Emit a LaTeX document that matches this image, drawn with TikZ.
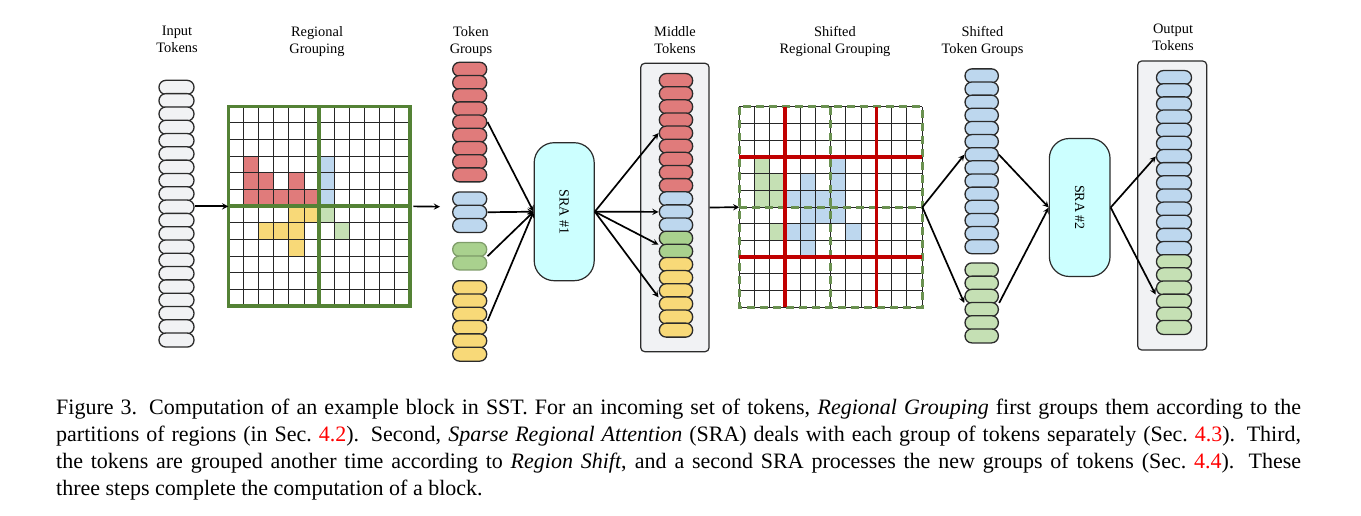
\documentclass[tikz,border=0pt]{standalone}
\usepackage{fontspec}
\setmainfont{Liberation Serif}
\usetikzlibrary{arrows}
\usetikzlibrary{fit}

\definecolor{tokgray}{HTML}{F1F2F4}
\definecolor{tokred}{HTML}{E07B7B}
\definecolor{tokblue}{HTML}{BDD7EE}
\definecolor{tokgreen}{HTML}{A9D18E}
\definecolor{palegreen}{HTML}{C5E0B4}
\definecolor{tokyellow}{HTML}{F8D978}
\definecolor{gridgreen}{HTML}{548235}
\definecolor{dashgreen}{HTML}{6A9150}
\definecolor{shiftred}{HTML}{C00000}
\definecolor{sracyan}{HTML}{CCFFFF}
\definecolor{edgegray}{HTML}{2B2B2B}

\tikzset{
  tok/.style={draw=edgegray, line width=1.3pt, rounded corners=6.8pt,
    minimum width=34pt, minimum height=14pt, inner sep=0pt},
  grp/.style={inner sep=0pt},
  sra/.style={draw=edgegray, fill=sracyan, line width=1.2pt, rounded corners=20pt,
    minimum width=60pt, minimum height=138pt, inner sep=0pt,
    font=\fontsize{14}{17}\selectfont},
  tokbox/.style={draw=edgegray, fill=tokgray, line width=1.2pt, rounded corners=4pt, inner sep=0pt},
  lbl/.style={align=center, anchor=north, inner sep=0pt, font=\fontsize{14.4}{16.7}\selectfont},
  arr/.style={->, >=stealth, line width=1.7pt},
  cellline/.style={line width=1pt, black!85},
}

% one column of tokens: prefix, x, top, count, pitch, style
\newcommand{\tokencol}[6]{%
  \foreach \i in {1,...,#4}
    \node[tok,#6] (#1\i) at (#2,{#3+(\i-0.5)*#5}) {};
}

\begin{document}
\begin{tikzpicture}[x=1pt,y=-1pt]
  \useasboundingbox (0,0) rectangle (1361,516);

  % titles
  \node[lbl] (tin) at (177,26.3) {Input\\Tokens};
  \node[lbl] (treg) at (317,26.3) {Regional\\Grouping};
  \node[lbl] (tgrp) at (471,26.3) {Token\\Groups};
  \node[lbl] (tmid) at (675,26.6) {Middle\\Tokens};
  \node[lbl] (tsreg) at (835,26.3) {Shifted\\Regional Grouping};
  \node[lbl] (tsgrp) at (982.5,26.3) {Shifted\\Token Groups};
  \node[lbl] (tout) at (1173,23.8) {Output\\Tokens};

  % input tokens
  \tokencol{in}{176.5}{80.7}{20}{13.3}{fill=tokgray,minimum width=35pt}
  \node[grp, fit=(in1)(in20)] (inputs) {};

  % regional grouping
  \node[grp, minimum width=181.7pt, minimum height=199.7pt, anchor=north west] (grid1) at (228.3,106.3) {};
  \begin{scope}[shift={(grid1.north west)}, x=15.142pt, y=-16.642pt]
    \foreach \c/\r in {1/3,1/4,2/4,4/4,1/5,2/5,3/5,4/5,5/5}
      \fill[tokred] (\c,\r) rectangle ++(1,1);
    \foreach \c/\r in {6/3,6/4,6/5}
      \fill[tokblue] (\c,\r) rectangle ++(1,1);
    \foreach \c/\r in {4/6,5/6,2/7,3/7,4/7,4/8}
      \fill[tokyellow] (\c,\r) rectangle ++(1,1);
    \foreach \c/\r in {6/6,7/7}
      \fill[palegreen] (\c,\r) rectangle ++(1,1);
    \foreach \i in {0,...,12} {
      \draw[cellline] (\i,0) -- (\i,12);
      \draw[cellline] (0,\i) -- (12,\i);
    }
    \draw[gridgreen, line width=3.4pt] (0,0) rectangle (12,12) (6,0) -- (6,12) (0,6) -- (12,6);
  \end{scope}

  % token groups
  \tokencol{tr}{469.7}{62.7}{9}{13.2}{fill=tokred}
  \tokencol{tb}{469.7}{192.3}{3}{13.3}{fill=tokblue}
  \tokencol{tg}{469.7}{242.7}{2}{13.5}{fill=tokgreen,draw=tokgreen!75!black}
  \tokencol{ty}{469.7}{281}{6}{13.3}{fill=tokyellow}
  \node[grp, fit=(tr1)(tr9)] (tgred) {};
  \node[grp, fit=(tb1)(tb3)] (tgblue) {};
  \node[grp, fit=(tg1)(tg2)] (tggreen) {};
  \node[grp, fit=(ty1)(ty6)] (tgyellow) {};

  % SRA #1
  \node[sra] (sra1) at (564.2,211.7) {\rotatebox{-90}{SRA \#1}};

  % middle tokens
  \node[tokbox, minimum width=68.3pt, minimum height=288.4pt] (midbox) at (674.9,207.5) {};
  \tokencol{mr}{676}{74}{9}{13.13}{fill=tokred,minimum width=33.3pt}
  \tokencol{mb}{676}{192.2}{3}{13.13}{fill=tokblue,minimum width=33.3pt}
  \tokencol{mg}{676}{231.6}{2}{13.13}{fill=tokgreen,minimum width=33.3pt}
  \tokencol{my}{676}{257.9}{6}{13.13}{fill=tokyellow,minimum width=33.3pt}
  \node[grp, fit=(mr1)(mr9)] (midred) {};
  \node[grp, fit=(mb1)(mb3)] (midblue) {};
  \node[grp, fit=(mg1)(mg2)] (midgreen) {};
  \node[grp, fit=(my1)(my6)] (midyellow) {};

  % shifted regional grouping
  \node[grp, minimum width=182.7pt, minimum height=200pt, anchor=north west] (grid2) at (739.3,107) {};
  \begin{scope}[shift={(grid2.north west)}, x=15.225pt, y=-16.667pt]
    \foreach \c/\r in {1/3,1/4,1/5,2/4,2/5,2/7}
      \fill[palegreen] (\c,\r) rectangle ++(1,1);
    \foreach \c/\r in {6/3,4/4,6/4,3/5,4/5,5/5,6/5,4/6,5/6,6/6,3/7,4/7,7/7,4/8}
      \fill[tokblue] (\c,\r) rectangle ++(1,1);
    \foreach \i in {0,...,12} {
      \draw[cellline] (\i,0) -- (\i,12);
      \draw[cellline] (0,\i) -- (12,\i);
    }
    \draw[dashgreen, line width=3pt, dash pattern=on 8pt off 5pt]
      (0,0) rectangle (12,12) (6,0) -- (6,12) (0,6) -- (12,6);
    \draw[shiftred, line width=3.2pt]
      (3,0) -- (3,12) (9,0) -- (9,12) (0,3) -- (12,3) (0,9) -- (12,9);
  \end{scope}

  % shifted token groups
  \tokencol{sb}{981.7}{69.3}{14}{13.14}{fill=tokblue,minimum width=33.3pt}
  \tokencol{sg}{981.7}{263.3}{6}{13.2}{fill=palegreen,minimum width=33.3pt}
  \node[grp, fit=(sg1)(sg6)] (sgreen) {};

  % SRA #2
  \node[sra, minimum width=60.7pt] (sra2) at (1079.7,207.5) {\rotatebox{-90}{SRA \#2}};

  % output tokens
  \node[tokbox, minimum width=69pt, minimum height=289pt] (outbox) at (1172.2,205.5) {};
  \tokencol{ob}{1174}{71}{14}{13.15}{fill=tokblue,minimum width=35pt}
  \tokencol{og}{1174}{255.1}{6}{13.15}{fill=palegreen,minimum width=35pt}
  \node[grp, fit=(og1)(og6)] (outgreen) {};

  % connectors
  \coordinate (tgin) at (440,206.7);
  \draw[arr] (inputs.east |- grid1.west) -- (grid1.west);
  \draw[arr] ([xshift=3pt]grid1.east) -- (tgin);
  \foreach \g in {tgred,tgblue,tggreen,tgyellow}
    \draw[arr] (\g.east) -- (sra1.west);
  \foreach \g in {midred,midblue,midgreen,midyellow}
    \draw[arr] (sra1.east) -- (\g.west);
  \draw[arr] (midbox.east) -- (grid2.west);
  \draw[arr] (grid2.east) -- (sb7.west);
  \draw[arr] (grid2.east) -- (sgreen.west);
  \draw[arr] (sb7.east) -- (sra2.west);
  \draw[arr] (sgreen.east) -- (sra2.west);
  \draw[arr] (sra2.east) -- (ob7.west);
  \draw[arr] (sra2.east) -- (outgreen.west);

  % caption
  \node[anchor=north west, text width=1245pt, align=justify, inner sep=0pt,
    font=\fontsize{22}{27}\selectfont] (caption) at (56,398.5)
    {Figure 3. Computation of an example block in SST. For an incoming set of tokens, \textit{Regional Grouping} first groups them according to the\linebreak
    partitions of regions (in Sec.~{\color{red}4.2}). Second, \textit{Sparse Regional Attention} (SRA) deals with each group of tokens separately (Sec.~{\color{red}4.3}). Third,\linebreak
    the tokens are grouped another time according to \textit{Region Shift}, and a second SRA processes the new groups of tokens (Sec.~{\color{red}4.4}). These\linebreak
    three steps complete the computation of a block.};
\end{tikzpicture}
\end{document}
